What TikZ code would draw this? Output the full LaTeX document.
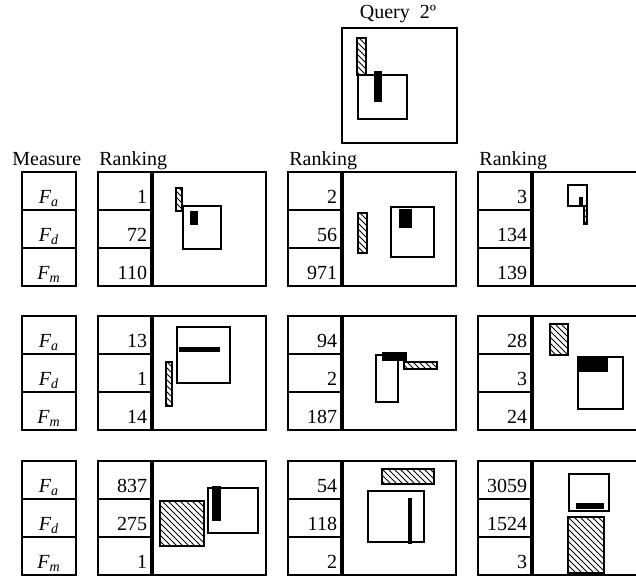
\documentclass[tikz,border=0pt]{standalone}
\usepackage{fontspec}
\setmainfont{Liberation Serif}
\usetikzlibrary{positioning, patterns}
\newcommand{\meas}[1]{\textit{F}\textsubscript{\textit{#1}}}

\begin{document}
\begin{tikzpicture}[x=0.5pt, y=-0.5pt,
  cell/.style={draw, line width=0.9pt, minimum width=27pt, minimum height=19pt, inner sep=0pt, outer sep=0pt, text height=12pt, text depth=0pt},
  num/.style={cell, text width=22pt, align=right},
  panel/.style={draw, line width=0.9pt, minimum size=57pt, inner sep=0pt, outer sep=0pt, anchor=north west},
  lbl/.style={anchor=base west, inner sep=0pt},
  obj/.style={draw, line width=0.7pt, fill=white},
  blk/.style={fill=black},
  hatch/.style={draw, line width=0.6pt, pattern=north west lines}]
\useasboundingbox (0,0) rectangle (636,579);
% query
\node[anchor=base, inner sep=0pt] (qt) at (398,18) {Query~~2º};
\node[draw, line width=0.9pt, minimum size=57.5pt, inner sep=0pt, anchor=north west] (q) at (341,27) {};
\draw[hatch] (357,38) rectangle (366,75);
\draw[obj] (358,75) rectangle (407,119);
\fill[blk] (374,71) rectangle (382,102);
% headers
\node[lbl] (hm) at (12,165) {Measure};
\node[lbl] (h1) at (99,165) {Ranking};
\node[lbl] (h2) at (289,165) {Ranking};
\node[lbl] (h3) at (479,165) {Ranking};
% row 1
\node[cell, anchor=north west] (ma1) at (22,172) {\meas{a}}; \node[cell, below=0pt of ma1] (md1) {\meas{d}}; \node[cell, below=0pt of md1] (mm1) {\meas{m}};
\node[num, anchor=north west] (a11) at (98,172) {1}; \node[num, below=0pt of a11] (d11) {72}; \node[num, below=0pt of d11] (m11) {110};
\node[num, anchor=north west] (a12) at (288,172) {2}; \node[num, below=0pt of a12] (d12) {56}; \node[num, below=0pt of d12] (m12) {971};
\node[num, anchor=north west] (a13) at (478,172) {3}; \node[num, below=0pt of a13] (d13) {134}; \node[num, below=0pt of d13] (m13) {139};
% row 2
\node[cell, anchor=north west] (ma2) at (22,316) {\meas{a}}; \node[cell, below=0pt of ma2] (md2) {\meas{d}}; \node[cell, below=0pt of md2] (mm2) {\meas{m}};
\node[num, anchor=north west] (a21) at (98,316) {13}; \node[num, below=0pt of a21] (d21) {1}; \node[num, below=0pt of d21] (m21) {14};
\node[num, anchor=north west] (a22) at (288,316) {94}; \node[num, below=0pt of a22] (d22) {2}; \node[num, below=0pt of d22] (m22) {187};
\node[num, anchor=north west] (a23) at (478,316) {28}; \node[num, below=0pt of a23] (d23) {3}; \node[num, below=0pt of d23] (m23) {24};
% row 3
\node[cell, anchor=north west] (ma3) at (22,461) {\meas{a}}; \node[cell, below=0pt of ma3] (md3) {\meas{d}}; \node[cell, below=0pt of md3] (mm3) {\meas{m}};
\node[num, anchor=north west] (a31) at (98,461) {837}; \node[num, below=0pt of a31] (d31) {275}; \node[num, below=0pt of d31] (m31) {1};
\node[num, anchor=north west] (a32) at (288,461) {54}; \node[num, below=0pt of a32] (d32) {118}; \node[num, below=0pt of d32] (m32) {2};
\node[num, anchor=north west] (a33) at (478,461) {3059}; \node[num, below=0pt of a33] (d33) {1524}; \node[num, below=0pt of d33] (m33) {3};
% panels
\node[panel] (p11) at (a11.north east) {}; \node[panel] (p12) at (a12.north east) {}; \node[panel] (p13) at (a13.north east) {};
\node[panel] (p21) at (a21.north east) {}; \node[panel] (p22) at (a22.north east) {}; \node[panel] (p23) at (a23.north east) {};
\node[panel] (p31) at (a31.north east) {}; \node[panel] (p32) at (a32.north east) {}; \node[panel] (p33) at (a33.north east) {};
\foreach \p in {p11,p12,p13,p21,p22,p23,p31,p32,p33}
  \draw[line width=1.6pt] (\p.north west) -- (\p.south west);
% shapes, row 1
\draw[hatch] (176,188) rectangle (182,211);
\draw[obj] (183,206) rectangle (221,249); \fill[blk] (190,211) rectangle (198,225);
\draw[hatch] (358,213) rectangle (367,253);
\draw[obj] (391,207) rectangle (434,257); \fill[blk] (399,209) rectangle (412,228);
\draw[obj] (568,185) rectangle (587,206); \fill[blk] (579,197) rectangle (583,206);
\draw[hatch] (584,206) rectangle (587,224);
% shapes, row 2
\draw[obj] (177,327) rectangle (230,383); \fill[blk] (179,347) rectangle (220,352);
\draw[hatch] (166,362) rectangle (172,406);
\draw[obj] (376,355) rectangle (398,402); \fill[blk] (382,352) rectangle (407,361);
\draw[hatch] (404,362) rectangle (437,369);
\draw[hatch] (550,324) rectangle (568,355);
\draw[obj] (578,357) rectangle (623,409); \fill[blk] (579,358) rectangle (608,372);
% shapes, row 3
\draw[hatch] (160,501) rectangle (204,546);
\draw[obj] (208,488) rectangle (258,533); \fill[blk] (212,486) rectangle (221,521);
\draw[hatch] (382,469) rectangle (434,484);
\draw[obj] (368,491) rectangle (424,542); \fill[blk] (408,498) rectangle (412,544);
\draw[obj] (569,474) rectangle (609,511); \fill[blk] (576,503) rectangle (604,509);
\draw[hatch] (568,517) rectangle (604,573);
\end{tikzpicture}
\end{document}
